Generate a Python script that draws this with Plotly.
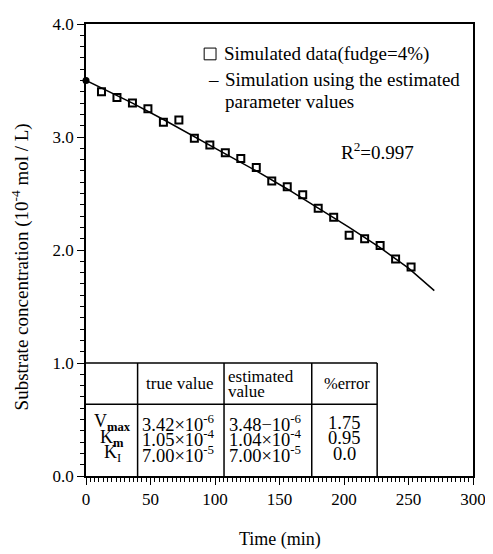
import plotly.graph_objects as go

# ---- data ----
init_time = [0]
init_conc = [3.50]

data_time = [12, 24, 36, 48, 60, 72, 84, 96, 108, 120, 132, 144, 156, 168, 180, 192, 204, 216, 228, 240, 252]
data_conc = [3.40, 3.35, 3.30, 3.25, 3.13, 3.15, 2.99, 2.93, 2.86, 2.81, 2.73, 2.61, 2.56, 2.49,
             2.37, 2.29, 2.13, 2.10, 2.04, 1.92, 1.85]

fit_time = [0, 12, 36, 60, 84, 108, 132, 156, 180, 204, 228, 250, 270]
fit_conc = [3.50, 3.435, 3.30, 3.155, 3.00, 2.85, 2.70, 2.54, 2.37, 2.20, 2.02, 1.84, 1.64]

x_ticks = [0, 50, 100, 150, 200, 250, 300]
y_ticks = [0.0, 1.0, 2.0, 3.0, 4.0]

param_names = ["V<sub><b>max</b></sub>", "K<sub><b>m</b></sub>", "K<sub>I</sub>"]
true_values = ["3.42×10<sup>-6</sup>", "1.05×10<sup>-4</sup>", "7.00×10<sup>-5</sup>"]
est_values = ["3.48−10<sup>-6</sup>", "1.04×10<sup>-4</sup>", "7.00×10<sup>-5</sup>"]
err_values = ["1.75", "0.95", "0.0"]

FONT = "Liberation Serif"

fig = go.Figure()
fig.add_trace(go.Scatter(x=fit_time, y=fit_conc, mode="lines",
                         line=dict(color="black", width=1.5), showlegend=False))
fig.add_trace(go.Scatter(x=data_time, y=data_conc, mode="markers",
                         marker=dict(symbol="square-open", size=7, color="black",
                                     line=dict(width=2, color="black")), showlegend=False))
fig.add_trace(go.Scatter(x=init_time, y=init_conc, mode="markers",
                         marker=dict(symbol="circle", size=7, color="black"),
                         showlegend=False, cliponaxis=False))

shapes = []
# table grid
col_x = [40, 107, 175, 225.7]
shapes.append(dict(type="line", x0=0, x1=225.7, y0=1.0, y1=1.0, line=dict(color="black", width=1.5)))
shapes.append(dict(type="line", x0=0, x1=225.7, y0=0.635, y1=0.635, line=dict(color="black", width=1.5)))
for cx in col_x:
    shapes.append(dict(type="line", x0=cx, x1=cx, y0=0, y1=1.0, line=dict(color="black", width=1.5)))
# legend marker box
shapes.append(dict(type="rect", x0=91.6, x1=100.8, y0=3.683, y1=3.787, line=dict(color="black", width=1)))

ann = []
def txt(x, y, s, size=16, xanchor="left", **kw):
    ann.append(dict(x=x, y=y, xref="x", yref="y", text=s, showarrow=False,
                    xanchor=xanchor, yanchor="middle",
                    font=dict(family=FONT, size=size, color="black"), **kw))

# legend texts
txt(105.5, 3.735, "Simulated data(fudge=4%)", size=19)
txt(98.5, 3.505, "–", size=19, xanchor="center")
txt(106.5, 3.505, "Simulation using the estimated", size=19)
txt(106.5, 3.31, "parameter values", size=19)
txt(196.5, 2.875, "R<sup>2</sup>=0.997", size=19)

# table header
txt(73, 0.82, "true value", size=17, xanchor="center")
txt(108.5, 0.885, "estimated", size=17)
txt(108.5, 0.745, "value", size=17)
txt(202.5, 0.82, "%error", size=16.5, xanchor="center")
row_y = [0.47, 0.335, 0.195]
for i in range(3):
    txt(20.5, row_y[i], param_names[i], size=18, xanchor="center")
    txt(42, row_y[i], true_values[i], size=18.5)
    txt(109, row_y[i], est_values[i], size=18.5)
    txt(200, row_y[i], err_values[i], size=18.5, xanchor="center")

# axis titles
ann.append(dict(x=-0.170, y=0.462, xref="paper", yref="paper", showarrow=False,
                text="Substrate concentration (10<sup>-4</sup> mol / L)", textangle=-90,
                xanchor="center", yanchor="middle", font=dict(family=FONT, size=19, color="black")))
ann.append(dict(x=0.5, y=-0.141, xref="paper", yref="paper", showarrow=False,
                text="Time (min)", xanchor="center", yanchor="middle",
                font=dict(family=FONT, size=18, color="black")))

fig.update_layout(
    width=485, height=546,
    margin=dict(l=78, r=14, t=7, b=78),
    paper_bgcolor="white", plot_bgcolor="white",
    shapes=shapes, annotations=ann,
    showlegend=False,
)
fig.update_xaxes(range=[0, 300], tickvals=x_ticks, ticktext=[str(v) for v in x_ticks],
                 showgrid=False, zeroline=False, showline=True, linecolor="black", linewidth=1.5,
                 mirror=True, ticks="outside", ticklen=7, tickwidth=1.2, tickcolor="black",
                 ticklabeloverflow="allow",
                 tickfont=dict(family=FONT, size=17, color="black"),
                 minor=dict(dtick=10/3, ticks="outside", ticklen=4, tickwidth=1, tickcolor="black"))
fig.update_yaxes(range=[0, 4], tickvals=y_ticks, ticktext=[f"{v:.1f}" for v in y_ticks],
                 showgrid=False, zeroline=False, showline=True, linecolor="black", linewidth=1.5,
                 mirror=True, ticks="outside", ticklen=7, tickwidth=1.2, tickcolor="black",
                 ticklabeloverflow="allow",
                 tickfont=dict(family=FONT, size=17, color="black"),
                 minor=dict(dtick=0.1, ticks="outside", ticklen=4, tickwidth=1, tickcolor="black"))

fig.write_html("out.html")
